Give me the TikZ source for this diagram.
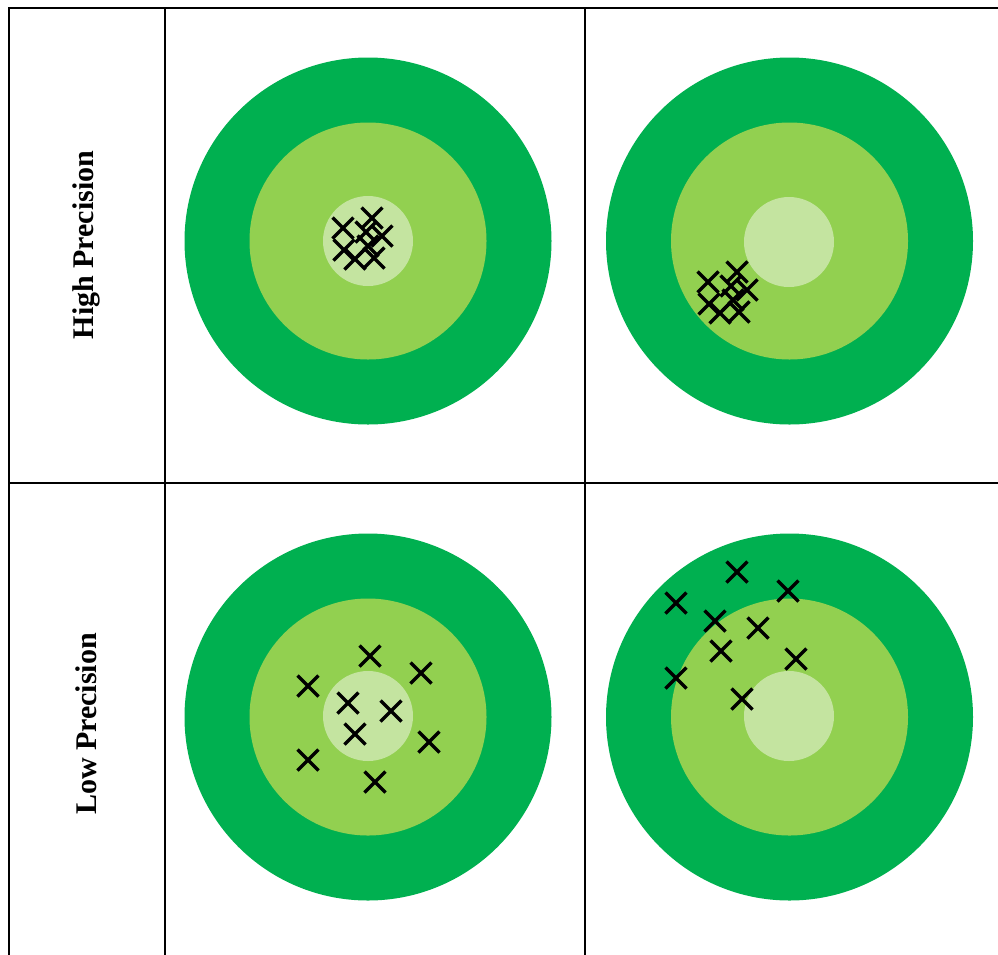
\documentclass[tikz,border=0pt]{standalone}
\usepackage{fontspec}
\setmainfont{Liberation Serif}
\definecolor{outerg}{RGB}{0,176,80}
\definecolor{midg}{RGB}{146,208,80}
\definecolor{innerg}{RGB}{196,228,160}
\tikzset{
  gridline/.style={line width=2.4pt, line cap=rect},
  xmark/.style={line width=3.4pt, black},
  rowlabel/.style={rotate=90, font=\bfseries\fontsize{30}{34}\selectfont, inner sep=0pt}
}
\newcommand\drawtarget[4]{%
  \fill[outerg] (#1,#2) circle[radius=183.5];
  \fill[midg] (#1,#2) circle[radius=118.5];
  \fill[innerg] (#3,#4) circle[radius=45];
}
\newcommand\xmarks[1]{%
  \foreach \p in {#1} \draw[xmark, shift={\p}] (-10.5,-10.5) -- (10.5,10.5) (-10.5,10.5) -- (10.5,-10.5);
}
\begin{document}
\begin{tikzpicture}[x=1pt,y=-1pt]
\useasboundingbox (0,0) rectangle (998,954);
% targets
\drawtarget{368}{241}{368}{241}
\drawtarget{789.5}{241}{789}{242}
\drawtarget{368}{717}{368}{716}
\drawtarget{789.5}{717}{789}{716}
% crosses
\xmarks{(343,228),(372,218),(382,236),(344,250),(368,246),(355,259),(374,258),(366,232)}
\xmarks{(708,282),(737,272),(747,290),(709,304),(733,300),(720,313),(739,312),(731,286)}
\xmarks{(370,656),(421,673),(308,686),(348,703),(391,711),(355,734),(429,742),(308,760),(375,782)}
\xmarks{(737,572),(788,591),(676,603),(715,621),(758,628),(721,651),(796,659),(676,678),(742,699)}
% grid
\coordinate (tl) at (9,8);
\coordinate (tr) at (998,8);
\coordinate (ml) at (9,483);
\coordinate (mr) at (998,483);
\coordinate (bl) at (9,954);
\coordinate (c1t) at (165,8);
\coordinate (c1b) at (165,954);
\coordinate (c2t) at (585,8);
\coordinate (c2b) at (585,954);
\draw[gridline] (tl) -- (tr);
\draw[gridline] (ml) -- (mr);
\draw[gridline] (tl) -- (bl);
\draw[gridline] (c1t) -- (c1b);
\draw[gridline] (c2t) -- (c2b);
% labels
\node[rowlabel] (hp) at (86,245) {High Precision};
\node[rowlabel] (lp) at (86,724) {Low Precision};
\end{tikzpicture}
\end{document}
